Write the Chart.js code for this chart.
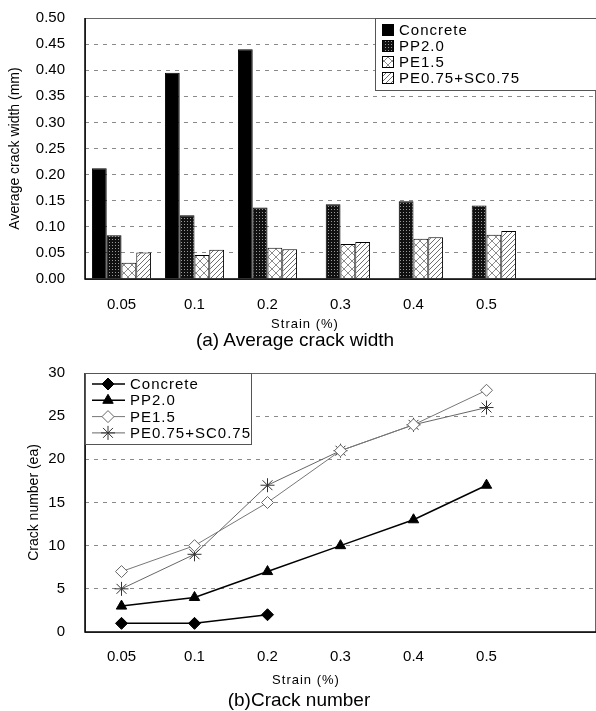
<!DOCTYPE html>
<html>
<head>
<meta charset="utf-8">
<script src="https://cdn.jsdelivr.net/npm/chart.js@4.4.0/dist/chart.umd.min.js"></script>
<style>
html, body { margin: 0; padding: 0; background: #fff; }
body { width: 596px; height: 711px; position: relative; overflow: hidden; font-family: "Liberation Sans", Arial, sans-serif; }
.box { position: absolute; left: 0; width: 596px; }
.txt { position: absolute; transform: translate(-50%, -50%); white-space: nowrap; color: #000; }
</style>
</head>
<body>
<div class="box" style="top:-11px;height:336px"><canvas id="widthChart"></canvas></div>
<div class="txt" style="left:305px;top:323px;font-size:13px;letter-spacing:1px">Strain (%)</div>
<div class="txt" style="left:295px;top:340px;font-size:19px">(a) Average crack width</div>

<div class="box" style="top:344px;height:331px"><canvas id="numberChart"></canvas></div>
<div class="txt" style="left:306px;top:679px;font-size:13px;letter-spacing:1px">Strain (%)</div>
<div class="txt" style="left:299px;top:700px;font-size:19px">(b)Crack number</div>

<script>
// strain levels; the last slot is empty (the original plot runs past 0.5)
const strains = ["0.05", "0.1", "0.2", "0.3", "0.4", "0.5", ""];
const seriesNames = ["Concrete", "PP2.0", "PE1.5", "PE0.75+SC0.75"];

// (a) average crack width, mm
const widthConcrete = [0.212, 0.395, 0.44, null, null, null, null];
const widthPP = [0.084, 0.122, 0.137, 0.143, 0.149, 0.141, null];
const widthPE = [0.031, 0.046, 0.060, 0.067, 0.077, 0.085, null];
const widthPESC = [0.051, 0.056, 0.057, 0.071, 0.080, 0.092, null];
const widthTicks = { min: 0, max: 0.5, step: 0.05 };

// (b) crack number, ea
const countConcrete = [1, 1, 2, null, null, null, null];
const countPP = [3, 4, 7, 10, 13, 17, null];
const countPE = [7, 10, 15, 21, 24, 28, null];
const countPESC = [5, 9, 17, 21, 24, 26, null];
const countTicks = { min: 0, max: 30, step: 5 };

const FONT = "'Liberation Sans', Arial, sans-serif";

function makePattern(size, draw) {
    const c = document.createElement("canvas");
    c.width = size;
    c.height = size;
    const g = c.getContext("2d");
    draw(g, size);
    return g.createPattern(c, "repeat");
}

const darkGrid = makePattern(3, (g) => {
    g.fillStyle = "#111";
    g.fillRect(0, 0, 3, 3);
    g.fillStyle = "#9a9a9a";
    g.fillRect(1, 1, 1, 1);
});

const lightCross = makePattern(8, (g, s) => {
    g.fillStyle = "#fff";
    g.fillRect(0, 0, s, s);
    g.strokeStyle = "#8c8c8c";
    g.lineWidth = 1;
    g.beginPath();
    g.moveTo(0, 0); g.lineTo(s, s);
    g.moveTo(s, 0); g.lineTo(0, s);
    g.stroke();
});

const diagHatch = makePattern(5, (g, s) => {
    g.fillStyle = "#fff";
    g.fillRect(0, 0, s, s);
    g.strokeStyle = "#6e6e6e";
    g.lineWidth = 1;
    g.beginPath();
    g.moveTo(-1, s + 1); g.lineTo(s + 1, -1);
    g.moveTo(-1, 1); g.lineTo(1, -1);
    g.moveTo(s - 1, s + 1); g.lineTo(s + 1, s - 1);
    g.stroke();
});

// plot frame drawn over the grid
const framePlugin = {
    id: "frame",
    afterDatasetsDraw(chart) {
        const { ctx, chartArea: a } = chart;
        ctx.save();
        ctx.strokeStyle = "#666";
        ctx.lineWidth = 1;
        ctx.strokeRect(a.left + 0.5, a.top + 0.5, a.right - a.left - 1, a.bottom - a.top);
        ctx.strokeStyle = "#000";
        ctx.lineWidth = 1.5;
        ctx.beginPath();
        ctx.moveTo(a.left, a.top);
        ctx.lineTo(a.left, a.bottom);
        ctx.lineTo(a.right, a.bottom);
        ctx.stroke();
        ctx.restore();
    }
};

// boxed legend inside the plot area
const boxLegendPlugin = {
    id: "boxLegend",
    afterDraw(chart, args, opts) {
        const { ctx, chartArea: a } = chart;
        const x = opts.fromRight ? a.right - opts.w : a.left;
        const y = a.top;
        ctx.save();
        ctx.fillStyle = "#fff";
        ctx.fillRect(x, y, opts.w, opts.h);
        ctx.strokeStyle = "#555";
        ctx.lineWidth = 1;
        ctx.strokeRect(x + 0.5, y + 0.5, opts.w, opts.h);
        ctx.font = "15px " + FONT;
        ctx.letterSpacing = "1px";
        ctx.textBaseline = "middle";
        chart.data.datasets.forEach((ds, i) => {
            const cy = y + opts.first + i * opts.row;
            if (opts.kind === "bar") {
                ctx.fillStyle = ds.backgroundColor;
                ctx.fillRect(x + 7, cy - 6, 12, 12);
                ctx.strokeStyle = "#000";
                ctx.lineWidth = 1;
                ctx.strokeRect(x + 7.5, cy - 5.5, 11, 11);
            } else {
                ctx.strokeStyle = ds.borderColor;
                ctx.lineWidth = ds.borderWidth;
                ctx.beginPath();
                ctx.moveTo(x + 7, cy);
                ctx.lineTo(x + 40, cy);
                ctx.stroke();
                ctx.fillStyle = ds.pointBackgroundColor;
                ctx.strokeStyle = ds.pointBorderColor;
                ctx.lineWidth = ds.pointBorderWidth;
                Chart.helpers.drawPoint(ctx, {
                    pointStyle: ds.pointStyle,
                    radius: ds.pointRadius,
                    borderWidth: ds.pointBorderWidth,
                    rotation: 0
                }, x + 23, cy);
            }
            ctx.fillStyle = "#000";
            ctx.fillText(ds.label, x + opts.textX, cy + 1);
        });
        ctx.restore();
    }
};

function yScale(t, title, titlePad, fmt) {
    return {
        min: t.min,
        max: t.max,
        ticks: {
            stepSize: t.step,
            color: "#000",
            padding: 20,
            font: { family: FONT, size: 15 },
            callback: fmt
        },
        grid: { color: "#8a8a8a", drawTicks: false },
        border: { display: false, dash: [4, 5] },
        title: {
            display: true,
            text: title,
            color: "#000",
            font: { family: FONT, size: 14 },
            padding: { top: titlePad, bottom: 0 }
        },
        afterFit(s) { s.width = 85; }
    };
}

function xScale(pad) {
    return {
        offset: true,
        grid: { display: false },
        border: { display: false },
        ticks: {
            color: "#000",
            padding: pad,
            maxRotation: 0,
            font: { family: FONT, size: 15 }
        },
        afterFit(s) { s.height = 40; }
    };
}

new Chart(document.getElementById("widthChart"), {
    type: "bar",
    data: {
        labels: strains,
        datasets: [
            { label: seriesNames[0], data: widthConcrete, backgroundColor: "#000" },
            { label: seriesNames[1], data: widthPP, backgroundColor: darkGrid },
            { label: seriesNames[2], data: widthPE, backgroundColor: lightCross },
            { label: seriesNames[3], data: widthPESC, backgroundColor: diagHatch }
        ].map((d) => Object.assign(d, {
            borderColor: "#000",
            borderWidth: 1,
            barPercentage: 1,
            categoryPercentage: 0.81
        }))
    },
    options: {
        animation: false,
        responsive: true,
        maintainAspectRatio: false,
        layout: { padding: { top: 7, right: 0, left: 0, bottom: 6 } },
        plugins: {
            legend: { display: false },
            tooltip: { enabled: false },
            boxLegend: { kind: "bar", fromRight: true, w: 221, h: 72, first: 12, row: 16, textX: 24 }
        },
        scales: {
            x: xScale(9),
            y: yScale(widthTicks, "Average crack width (mm)", 7, (v) => v.toFixed(2))
        }
    },
    plugins: [framePlugin, boxLegendPlugin]
});

const lineBase = { fill: false, tension: 0, spanGaps: false };

new Chart(document.getElementById("numberChart"), {
    type: "line",
    data: {
        labels: strains,
        datasets: [
            Object.assign({
                label: seriesNames[0], data: countConcrete,
                borderColor: "#000", borderWidth: 1.5,
                pointStyle: "rectRot", pointRadius: 6,
                pointBackgroundColor: "#000", pointBorderColor: "#000", pointBorderWidth: 1
            }, lineBase),
            Object.assign({
                label: seriesNames[1], data: countPP,
                borderColor: "#000", borderWidth: 1.5,
                pointStyle: "triangle", pointRadius: 6,
                pointBackgroundColor: "#000", pointBorderColor: "#000", pointBorderWidth: 1
            }, lineBase),
            Object.assign({
                label: seriesNames[2], data: countPE,
                borderColor: "#777", borderWidth: 1,
                pointStyle: "rectRot", pointRadius: 6,
                pointBackgroundColor: "#fff", pointBorderColor: "#666", pointBorderWidth: 1
            }, lineBase),
            Object.assign({
                label: seriesNames[3], data: countPESC,
                borderColor: "#666", borderWidth: 1,
                pointStyle: "star", pointRadius: 7,
                pointBackgroundColor: "#fff", pointBorderColor: "#333", pointBorderWidth: 1
            }, lineBase)
        ]
    },
    options: {
        animation: false,
        responsive: true,
        maintainAspectRatio: false,
        layout: { autoPadding: false, padding: { top: 9, right: 0, left: 0, bottom: 3 } },
        plugins: {
            legend: { display: false },
            tooltip: { enabled: false },
            boxLegend: { kind: "line", fromRight: false, w: 166, h: 71, first: 11, row: 16.3, textX: 45 }
        },
        scales: {
            x: xScale(8),
            y: yScale(countTicks, "Crack number (ea)", 26, (v) => String(v))
        }
    },
    plugins: [framePlugin, boxLegendPlugin]
});
</script>
</body>
</html>
